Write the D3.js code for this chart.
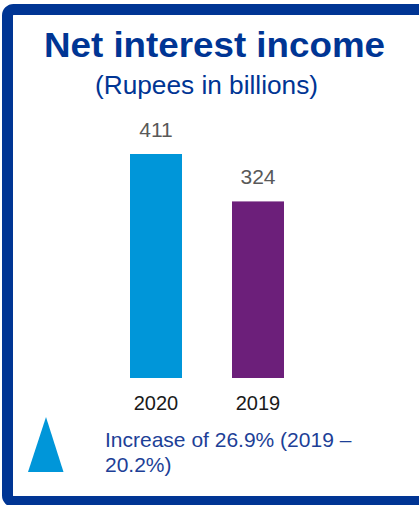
<!DOCTYPE html>
<html>
<head>
<meta charset="utf-8">
<script src="https://cdn.jsdelivr.net/npm/d3@7"></script>
<style>
  html, body { margin: 0; padding: 0; background: #fff; }
  svg { display: block; font-family: "Liberation Sans", Arial, sans-serif; }
</style>
</head>
<body>
<svg id="chart" width="419" height="505"></svg>
<script>
// Net interest income, rupees in billions
const years = ["2020", "2019"];
const values = [411, 324];
const barColors = ["#0096d9", "#6c1f7a"];
const title = "Net interest income";
const subtitle = "(Rupees in billions)";
const noteLines = ["Increase of 26.9% (2019 \u2013", "20.2%)"];

const svg = d3.select("#chart");
const navy = "#003594";

// Framing panel (runs off the right edge)
svg.append("rect")
  .attr("x", 7.5).attr("y", 9.5)
  .attr("width", 440).attr("height", 492)
  .attr("rx", 6).attr("ry", 6)
  .attr("fill", "#fff")
  .attr("stroke", navy)
  .attr("stroke-width", 11);

svg.append("text")
  .attr("x", 44).attr("y", 56.5)
  .attr("font-size", 35).attr("font-weight", "bold")
  .attr("textLength", 341).attr("lengthAdjust", "spacingAndGlyphs")
  .attr("fill", navy)
  .text(title);

svg.append("text")
  .attr("x", 95).attr("y", 94)
  .attr("font-size", 26)
  .attr("textLength", 223).attr("lengthAdjust", "spacingAndGlyphs")
  .attr("fill", navy)
  .text(subtitle);

// Bar scales
const x = d3.scaleBand().domain(years).range([130, 284]).paddingInner(50 / 102);
const y = d3.scaleLinear().domain([0, 411]).range([378, 154]);

const data = years.map((yr, i) => ({ yr, v: values[i], c: barColors[i] }));

svg.selectAll("rect.bar").data(data).enter().append("rect")
  .attr("class", "bar")
  .attr("x", d => x(d.yr))
  .attr("width", x.bandwidth())
  .attr("y", d => y(d.v))
  .attr("height", d => y(0) - y(d.v))
  .attr("fill", d => d.c);

svg.selectAll("text.val").data(data).enter().append("text")
  .attr("class", "val")
  .attr("x", d => x(d.yr) + x.bandwidth() / 2)
  .attr("y", d => y(d.v) - 17)
  .attr("text-anchor", "middle")
  .attr("font-size", 21)
  .attr("fill", "#595959")
  .text(d => d.v);

// Category axis labels
const axis = d3.axisBottom(x).tickSize(0).tickPadding(0);
const gAxis = svg.append("g").attr("transform", "translate(0,410)").call(axis);
gAxis.select(".domain").remove();
gAxis.selectAll("text")
  .attr("dy", "0")
  .attr("font-size", 20)
  .attr("font-family", "Liberation Sans, Arial, sans-serif")
  .attr("fill", "#1a1a1a");

// Growth marker and note
svg.append("path")
  .attr("d", d3.line()([[28, 472], [46, 417], [63.5, 472]]) + "Z")
  .attr("fill", "#0096d9");

svg.append("text")
  .attr("font-size", 21)
  .attr("fill", "#1d3f97")
  .selectAll("tspan").data(noteLines).enter().append("tspan")
  .attr("x", 105)
  .attr("y", (d, i) => 446.5 + i * 25)
  .text(d => d);
</script>
</body>
</html>
